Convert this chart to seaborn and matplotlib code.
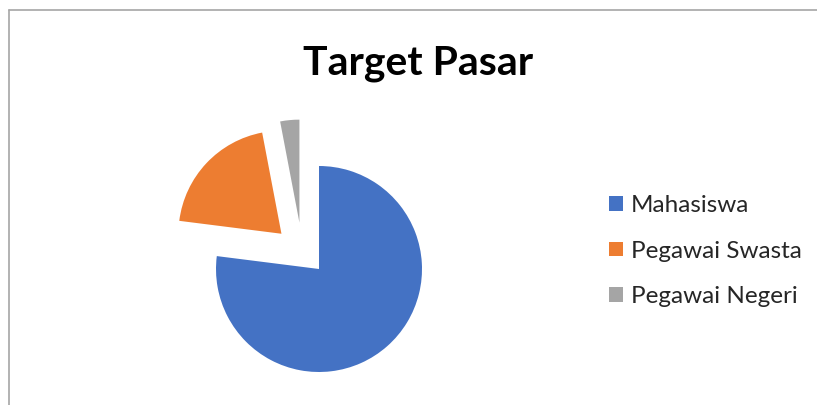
import matplotlib
matplotlib.use('Agg')
import matplotlib.pyplot as plt
import seaborn as sns
from matplotlib.lines import Line2D

# Data
categories = ['Mahasiswa', 'Pegawai Swasta', 'Pegawai Negeri']
shares = [77, 20, 3]
colors = ['#4472C4', '#ED7D31', '#A5A5A5']
title = 'Target Pasar'

sns.set_theme(style='white')
plt.rcParams['font.family'] = ['Lato', 'DejaVu Sans']

W, H = 817, 405
fig = plt.figure(figsize=(W / 100, H / 100), dpi=100)
fig.patch.set_facecolor('white')

# pie axes: centre at (319, 269) px, radius ~103 px
R = 103
cx, cy = 319, H - 269
xl, xr, yb, yt = -1.5, 1.5, -1.3, 1.7
ax = fig.add_axes([(cx + xl * R) / W, (cy + yb * R) / H,
                   (xr - xl) * R / W, (yt - yb) * R / H])
wedges, _ = ax.pie(shares, colors=sns.color_palette(colors), startangle=90,
                   counterclock=False, explode=[0, 0.5, 0.5],
                   wedgeprops=dict(linewidth=0))
# the small slice is pulled out a little further to the left
wedges[2].set_center((-0.19, 0.45))
ax.set_xlim(xl, xr)
ax.set_ylim(yb, yt)
ax.set_axis_off()

# title
fig.text(418 / W, 1 - 75 / H, title, ha='center', va='baseline',
         fontsize=29.5, fontweight='bold', color='black')

# legend
fig.legend(wedges, categories, loc='center left',
           bbox_to_anchor=(609 / W, 1 - 251 / H), frameon=False,
           fontsize=17.5, handlelength=0.56, handleheight=0.56,
           handletextpad=0.33, labelspacing=1.0, borderpad=0,
           borderaxespad=0)

# chart-area border (top and left edges are visible in the crop)
fig.add_artist(Line2D([9 / W, 9 / W], [0, 1 - 10 / H], transform=fig.transFigure,
                      color='#A6A6A6', linewidth=1.2))
fig.add_artist(Line2D([9 / W, 1], [1 - 10 / H, 1 - 10 / H], transform=fig.transFigure,
                      color='#A6A6A6', linewidth=1.2))

fig.savefig('out.png', dpi=100, facecolor='white')
